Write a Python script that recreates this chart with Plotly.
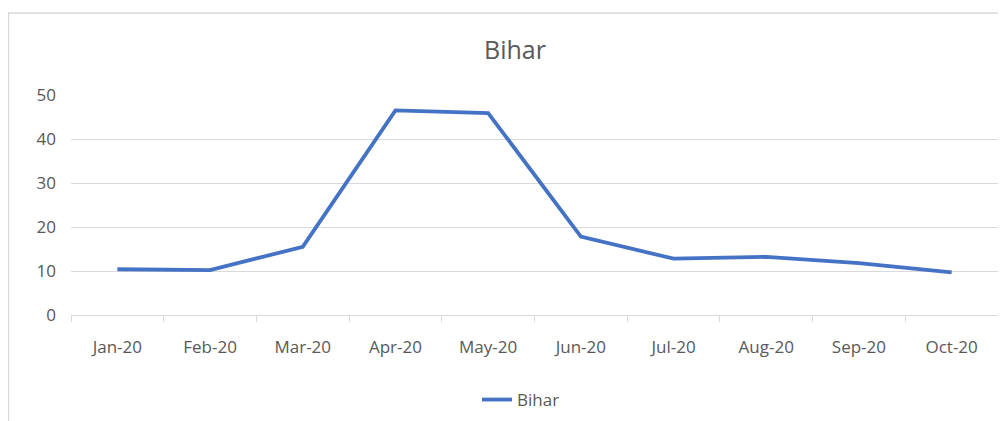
import plotly.graph_objects as go

# monthly values
months = ["Jan-20", "Feb-20", "Mar-20", "Apr-20", "May-20",
          "Jun-20", "Jul-20", "Aug-20", "Sep-20", "Oct-20"]
bihar = [10.4, 10.2, 15.5, 46.5, 45.9, 17.8, 12.8, 13.2, 11.8, 9.7]
y_ticks = [0, 10, 20, 30, 40, 50]

GRID = "#d9d9d9"
TEXT = "#595959"
FONT = "Open Sans"

# page body adds an 8px offset, so figure coords = screen coords - 8
W, H = 998, 413
L, T, PW, PH = 63, 87, 927, 220

fig = go.Figure()
fig.add_trace(go.Scatter(
    x=months,
    y=bihar,
    mode="lines",
    name="Bihar",
    line=dict(color="#4472C4", width=3.8),
))

# outer chart border (Excel style frame)
fig.add_shape(
    type="rect", xref="paper", yref="paper",
    x0=(0.5 - L) / PW, x1=(W + 10 - L) / PW,
    y0=-0.6, y1=(T + PH - 5) / PH,
    line=dict(color=GRID, width=1.5),
    layer="below",
)

fig.update_layout(
    width=W,
    height=H,
    paper_bgcolor="white",
    plot_bgcolor="white",
    margin=dict(l=L, r=W - L - PW, t=T, b=H - T - PH),
    font=dict(family=FONT, color=TEXT, size=17),
    title=dict(
        text="Bihar",
        x=507 / W, xanchor="center",
        y=1 - 42 / H, yanchor="middle",
        font=dict(family=FONT, size=25, color=TEXT),
    ),
    xaxis=dict(
        type="category",
        range=[-0.5, 9.5],
        showgrid=False,
        showline=True,
        linecolor=GRID,
        linewidth=1,
        ticks="outside",
        tickson="boundaries",
        ticklen=6,
        tickcolor=GRID,
        ticklabelstandoff=17,
        zeroline=False,
        tickfont=dict(size=17, color=TEXT),
    ),
    yaxis=dict(
        range=[0, 50],
        tickvals=y_ticks,
        showgrid=True,
        gridcolor=GRID,
        gridwidth=1,
        zeroline=False,
        showline=False,
        ticklabelstandoff=14,
        tickfont=dict(size=17, color=TEXT),
    ),
    showlegend=True,
    legend=dict(
        orientation="h",
        xref="container", yref="container",
        x=513 / W, xanchor="center",
        y=1 - 392 / H, yanchor="middle",
        font=dict(size=17, color=TEXT),
    ),
)

fig.write_html("out.html")
